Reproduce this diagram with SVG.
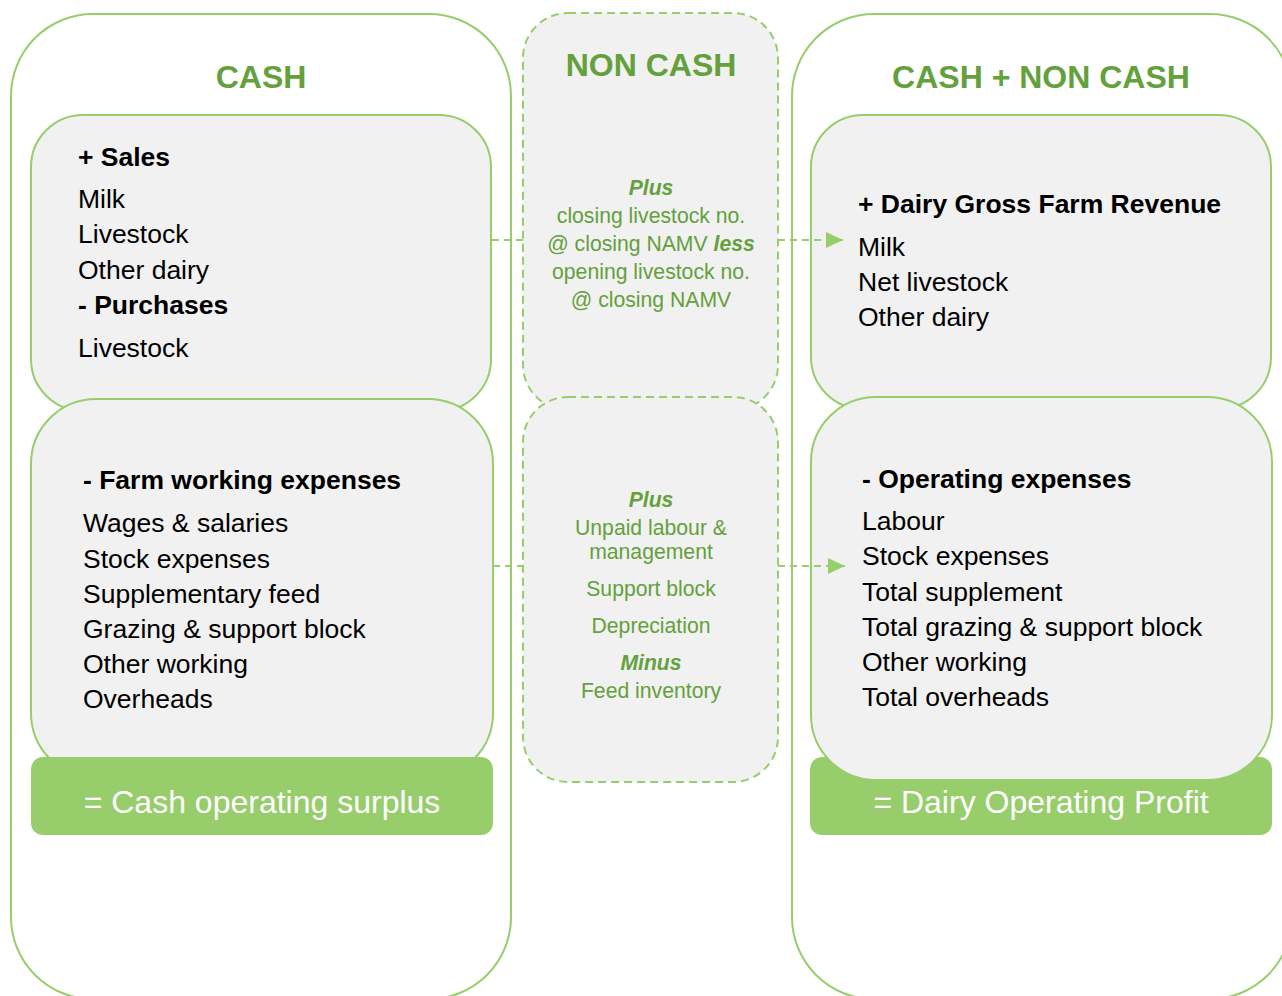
<svg xmlns="http://www.w3.org/2000/svg" width="1282" height="996" viewBox="0 0 1282 996">
  <style>
    .outer { fill: #ffffff; stroke: #98cd6c; stroke-width: 2; }
    .panel { fill: #f1f1f1; stroke: #98cd6c; stroke-width: 2; }
    .dashed { fill: #f1f1f1; stroke: #98cd6c; stroke-width: 2; stroke-dasharray: 8 5; }
    .bar { fill: #98cd6c; }
    .title { font-family: "Liberation Sans", Arial, sans-serif; font-weight: bold; font-size: 32px; fill: #64a03c; text-anchor: middle; }
    .head { font-family: "Liberation Sans", Arial, sans-serif; font-weight: bold; font-size: 26.5px; fill: #000000; }
    .item { font-family: "Liberation Sans", Arial, sans-serif; font-size: 26.5px; fill: #000000; }
    .note { font-family: "Liberation Sans", Arial, sans-serif; font-size: 21.2px; fill: #64a03c; text-anchor: middle; }
    .em { font-weight: bold; font-style: italic; }
    .total { font-family: "Liberation Sans", Arial, sans-serif; font-size: 32px; fill: #ffffff; text-anchor: middle; }
    .link { fill: none; stroke: #98cd6c; stroke-width: 2; stroke-dasharray: 7 5; }
  </style>
  <defs>
    <marker id="arrow" markerUnits="userSpaceOnUse" markerWidth="18" markerHeight="18" refX="17" refY="9" orient="auto">
      <path d="M0,1 L17,9 L0,17 Z" fill="#98cd6c"/>
    </marker>
  </defs>

  <!-- column frames -->
  <g id="cash-column">
    <rect class="outer" x="11" y="14" width="500" height="985" rx="82" ry="82"/>
    <text class="title" x="261" y="88">CASH</text>
  </g>
  <g id="cash-noncash-column">
    <rect class="outer" x="792" y="14" width="500" height="985" rx="82" ry="82"/>
    <text class="title" x="1041" y="88">CASH + NON CASH</text>
  </g>

  <!-- non cash adjustments -->
  <g id="noncash-livestock">
    <rect class="dashed" x="523" y="13" width="255" height="397" rx="45" ry="45"/>
    <text class="title" x="651" y="76">NON CASH</text>
    <text class="note" x="651" y="195"><tspan class="em">Plus</tspan></text>
    <text class="note" x="651" y="223">closing livestock no.</text>
    <text class="note" x="651" y="251">@ closing NAMV <tspan class="em">less</tspan></text>
    <text class="note" x="651" y="279">opening livestock no.</text>
    <text class="note" x="651" y="307">@ closing NAMV</text>
  </g>
  <g id="noncash-expenses">
    <rect class="dashed" x="523" y="397" width="255" height="385" rx="45" ry="45"/>
    <text class="note" x="651" y="507"><tspan class="em">Plus</tspan></text>
    <text class="note" x="651" y="535">Unpaid labour &amp;</text>
    <text class="note" x="651" y="559">management</text>
    <text class="note" x="651" y="596">Support block</text>
    <text class="note" x="651" y="633">Depreciation</text>
    <text class="note" x="651" y="670"><tspan class="em">Minus</tspan></text>
    <text class="note" x="651" y="698">Feed inventory</text>
  </g>

  <!-- cash side -->
  <g id="cash-sales">
    <rect class="panel" x="31" y="115" width="460" height="296" rx="52" ry="52"/>
    <text class="head" x="78" y="166">+ Sales</text>
    <text class="item" x="78" y="208">Milk</text>
    <text class="item" x="78" y="243">Livestock</text>
    <text class="item" x="78" y="279">Other dairy</text>
    <text class="head" x="78" y="314">- Purchases</text>
    <text class="item" x="78" y="357">Livestock</text>
  </g>
  <g id="cash-expenses">
    <rect class="panel" x="31" y="399" width="462" height="379" rx="65" ry="65"/>
    <text class="head" x="83" y="489">- Farm working expenses</text>
    <text class="item" x="83" y="532">Wages &amp; salaries</text>
    <text class="item" x="83" y="568">Stock expenses</text>
    <text class="item" x="83" y="603">Supplementary feed</text>
    <text class="item" x="83" y="638">Grazing &amp; support block</text>
    <text class="item" x="83" y="673">Other working</text>
    <text class="item" x="83" y="708">Overheads</text>
  </g>
  <g id="cash-surplus">
    <rect class="bar" x="31" y="757" width="462" height="78" rx="12" ry="12"/>
    <text class="total" x="262" y="813">= Cash operating surplus</text>
  </g>

  <!-- cash + non cash side -->
  <g id="gross-revenue">
    <rect class="panel" x="811" y="115" width="460" height="294" rx="52" ry="52"/>
    <text class="head" x="858" y="213">+ Dairy Gross Farm Revenue</text>
    <text class="item" x="858" y="256">Milk</text>
    <text class="item" x="858" y="291">Net livestock</text>
    <text class="item" x="858" y="326">Other dairy</text>
  </g>
  <g id="operating-profit">
    <rect class="bar" x="810" y="757" width="462" height="78" rx="12" ry="12"/>
    <text class="total" x="1041" y="813">= Dairy Operating Profit</text>
  </g>
  <g id="operating-expenses">
    <rect class="panel" x="811" y="397" width="461" height="383" rx="65" ry="65"/>
    <text class="head" x="862" y="488">- Operating expenses</text>
    <text class="item" x="862" y="530">Labour</text>
    <text class="item" x="862" y="565">Stock expenses</text>
    <text class="item" x="862" y="601">Total supplement</text>
    <text class="item" x="862" y="636">Total grazing &amp; support block</text>
    <text class="item" x="862" y="671">Other working</text>
    <text class="item" x="862" y="706">Total overheads</text>
  </g>

  <!-- connectors: cash items through the non cash adjustments -->
  <g id="connectors">
    <path class="link" d="M492,240 L523,240 M778,240 L843,240" marker-end="url(#arrow)"/>
    <path class="link" d="M493,566 L523,566 M778,566 L845,566" marker-end="url(#arrow)"/>
  </g>
</svg>
